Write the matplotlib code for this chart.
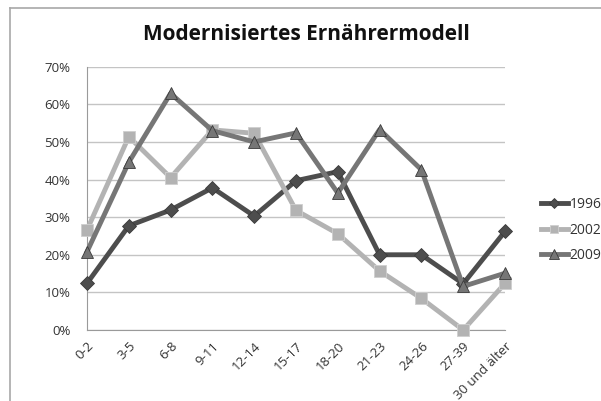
import matplotlib.pyplot as plt
from matplotlib.lines import Line2D
from matplotlib.ticker import FuncFormatter

# Daten
categories = ["0-2", "3-5", "6-8", "9-11", "12-14", "15-17", "18-20",
              "21-23", "24-26", "27-39", "30 und älter"]
s1996 = [12.4, 27.7, 31.9, 37.8, 30.3, 39.7, 42.1, 20.0, 20.0, 12.3, 26.2]
s2002 = [26.6, 51.4, 40.5, 53.2, 52.3, 31.8, 25.6, 15.7, 8.4, 0.0, 12.4]
s2009 = [20.8, 44.6, 62.9, 53.0, 50.0, 52.4, 36.4, 53.3, 42.6, 11.6, 15.1]
yticks = [0, 10, 20, 30, 40, 50, 60, 70]

plt.rcParams['font.family'] = ['Open Sans', 'DejaVu Sans']

fig = plt.figure(figsize=(6.01, 4.01), dpi=100)
ax = fig.add_axes([87 / 601, 1 - 330 / 401, (505 - 87) / 601, (330 - 66.7) / 401])

# Rahmen links/oben
fig.add_artist(Line2D([10 / 601, 10 / 601], [0, 1 - 8 / 401], transform=fig.transFigure,
                      color='#a8a8a8', lw=1.2))
fig.add_artist(Line2D([10 / 601, 1], [1 - 8 / 401, 1 - 8 / 401], transform=fig.transFigure,
                      color='#a8a8a8', lw=1.2))

x = list(range(len(categories)))
series = [
    ("1996", s1996, '#4d4d4d', 'D', 7),
    ("2002", s2002, '#b3b3b3', 's', 8),
    ("2009", s2009, '#767676', '^', 9),
]
for name, vals, col, mk, ms in series:
    ax.plot(x, vals, color=col, lw=3.5, marker=mk, markersize=ms,
            markerfacecolor=col, markeredgecolor='#cfcfcf' if name == "2002" else '#3a3a3a',
            markeredgewidth=0.6, label=name, clip_on=False, zorder=3)

ax.set_xlim(0, len(categories) - 1)
ax.set_ylim(0, 70)
ax.set_yticks(yticks)
ax.yaxis.set_major_formatter(FuncFormatter(lambda v, p: f"{int(v)}%"))
ax.set_xticks(x)
ax.set_xticklabels(categories, rotation=45, ha='right', rotation_mode='anchor')
ax.tick_params(axis='both', length=0, labelsize=9.5, colors='#333333')
ax.tick_params(axis='y', pad=12)
ax.tick_params(axis='x', pad=7)
ax.grid(axis='y', color='#c4c4c4', lw=1)
ax.set_axisbelow(True)
for side in ['top', 'right']:
    ax.spines[side].set_visible(False)
for side in ['left', 'bottom']:
    ax.spines[side].set_color('#9a9a9a')

fig.text(0.51, 1 - 35 / 401, "Modernisiertes Ernährermodell", ha='center', va='center',
         fontsize=15, fontweight='bold', color='#111111')

leg = fig.legend(loc='center left', bbox_to_anchor=(535 / 601, 1 - 230 / 401),
                 frameon=False, fontsize=10, handlelength=2.0, handletextpad=0.1,
                 labelspacing=0.75, borderaxespad=0, markerscale=0.75)
for t in leg.get_texts():
    t.set_color('#333333')

fig.savefig("out.png", dpi=100)
